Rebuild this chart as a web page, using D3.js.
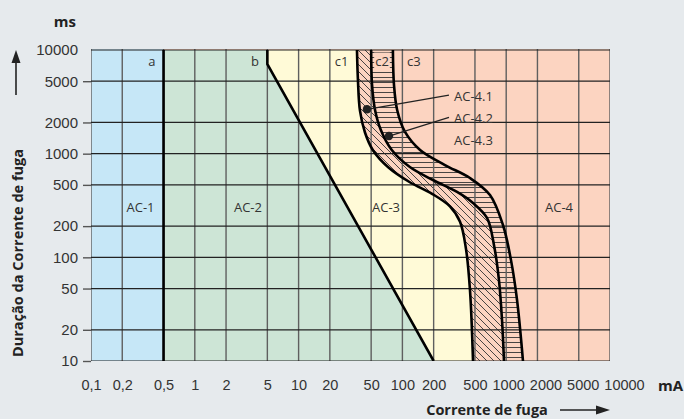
<!DOCTYPE html>
<html>
<head>
<meta charset="utf-8">
<script src="https://cdn.jsdelivr.net/npm/d3@7"></script>
<style>
  body { margin: 0; background: #e6eaed; }
  svg { display: block; font-family: "Open Sans", sans-serif; }
  .tick text { fill: #333; }
</style>
</head>
<body>
<svg id="chart" width="684" height="419"></svg>
<script>
// tick values (mA / ms)
let xTicks = [0.1, 0.2, 0.5, 1, 2, 5, 10, 20, 50, 100, 200, 500, 1000, 2000, 5000, 10000];
let yTicks = [10, 20, 50, 100, 200, 500, 1000, 2000, 5000, 10000];

// zone boundaries [current mA, duration ms]
let curveA = [[0.5, 10], [0.5, 10000]];
let curveB = [[5, 10000], [5, 7300], [200, 10]];
let curveC1 = [[36.5, 10000], [37.3, 5100], [39, 2600], [43.6, 1600], [52, 1080], [73, 740], [118, 530], [193, 410], [287, 310], [359, 220], [410, 120], [448, 48], [479, 10]];
let curveC2 = [[50, 10000], [51, 4600], [54.5, 2640], [62, 1690], [79, 1085], [118, 743], [197, 557], [336, 427], [479, 334], [653, 240], [763, 131], [852, 60], [911, 25], [952, 10]];
let curveC3 = [[81, 10000], [83, 4600], [89, 2640], [106, 1620], [148, 1085], [257, 777], [448, 582], [698, 399], [931, 205], [1112, 94], [1271, 39], [1451, 10]];

// labels
let curveLabels = [{ t: "a", x: 0.385, y: 7830 }, { t: "b", x: 3.8, y: 7830 }, { t: "c1", x: 26, y: 7830 }, { t: "c2", x: 63.6, y: 7830 }, { t: "c3", x: 129, y: 7830 }];
let zoneLabels = [{ t: "AC-1", x: 0.3 }, { t: "AC-2", x: 3.25 }, { t: "AC-3", x: 69.5 }, { t: "AC-4", x: 3226 }];
let zoneLabelY = 300;
let subLabels = [{ t: "AC-4.1", x: 314, y: 3598, dot: [45.6, 2679] }, { t: "AC-4.2", x: 314, y: 2193, dot: [74.3, 1480] }, { t: "AC-4.3", x: 314, y: 1355 }];

let colors = { blue: "#c6e7f7", green: "#cde5d6", yellow: "#fffad7", salmon: "#fcd4c1" };

let svg = d3.select("#chart");
let x = d3.scaleLog().domain([0.1, 10000]).range([91, 610]);
let y = d3.scaleLog().domain([10, 10000]).range([361, 50]);
let xL = x.range()[0], xR = x.range()[1], yB = y.range()[0], yT = y.range()[1];

// patterns
let defs = svg.append("defs");
defs.append("pattern").attr("id", "diag").attr("patternUnits", "userSpaceOnUse")
    .attr("width", 7).attr("height", 7)
    .append("path").attr("d", "M0,0L7,7M-1,6L1,8M6,-1L8,1")
    .attr("stroke", "#333").attr("stroke-width", 0.9);
defs.append("pattern").attr("id", "horiz").attr("patternUnits", "userSpaceOnUse")
    .attr("width", 6).attr("height", 5)
    .append("path").attr("d", "M0,2.5H6")
    .attr("stroke", "#333").attr("stroke-width", 0.9);
defs.append("clipPath").attr("id", "plotClip")
    .append("rect").attr("x", xL).attr("y", yT - 1).attr("width", xR - xL).attr("height", yB - yT + 1);

let smooth = d3.curveCatmullRom.alpha(0.5);
let line = d3.line().x(d => x(d[0])).y(d => y(d[1]));
let leftOf = d3.area().y(d => y(d[1])).x0(xL).x1(d => x(d[0]));
let rightOf = d3.area().y(d => y(d[1])).x0(d => x(d[0])).x1(xR);

let plot = svg.append("g").attr("clip-path", "url(#plotClip)");

// zone fills
plot.append("rect").attr("x", xL).attr("y", yT - 1).attr("width", xR - xL).attr("height", yB - yT + 1).attr("fill", colors.salmon);
plot.append("path").datum(curveC1).attr("d", rightOf.curve(smooth)).attr("fill", "url(#diag)");
plot.append("path").datum(curveC2).attr("d", rightOf.curve(smooth)).attr("fill", colors.salmon);
plot.append("path").datum(curveC2).attr("d", rightOf.curve(smooth)).attr("fill", "url(#horiz)");
plot.append("path").datum(curveC3).attr("d", rightOf.curve(smooth)).attr("fill", colors.salmon);
plot.append("path").datum(curveC1).attr("d", leftOf.curve(smooth)).attr("fill", colors.yellow);
plot.append("path").datum(curveB).attr("d", leftOf.curve(d3.curveLinear)).attr("fill", colors.green);
plot.append("rect").attr("x", xL).attr("y", yT - 1).attr("width", x(0.5) - xL).attr("height", yB - yT + 1).attr("fill", colors.blue);
let labelBg = plot.append("g");

// grid
plot.selectAll(".vgrid").data(xTicks).join("line").attr("class", "vgrid")
    .attr("x1", d => x(d)).attr("x2", d => x(d)).attr("y1", yT - 1).attr("y2", yB)
    .attr("stroke", "#5f5f5f").attr("stroke-width", 1.4);
plot.selectAll(".hgrid").data(yTicks).join("line").attr("class", "hgrid")
    .attr("x1", xL).attr("x2", xR).attr("y1", d => y(d)).attr("y2", d => y(d))
    .attr("stroke", "#222").attr("stroke-width", 1.2);

// boundary curves
plot.append("path").datum(curveA).attr("d", line.curve(d3.curveLinear)).attr("fill", "none").attr("stroke", "#000").attr("stroke-width", 2.6);
plot.append("path").datum(curveB).attr("d", line.curve(d3.curveLinear)).attr("fill", "none").attr("stroke", "#000").attr("stroke-width", 2.6);
[curveC1, curveC2, curveC3].forEach(c => {
    plot.append("path").datum(c).attr("d", line.curve(smooth)).attr("fill", "none").attr("stroke", "#000").attr("stroke-width", 2.6);
});

// curve labels
let cl = svg.append("g").attr("font-size", 13).attr("fill", "#333").attr("text-anchor", "middle");
cl.selectAll("text").data(curveLabels).join("text")
    .attr("x", d => x(d.x)).attr("y", d => y(d.y)).attr("dy", "0.35em").text(d => d.t)
    .each(function (d) {
        if (d.t == "c2") {
            let b = this.getBBox();
            labelBg.append("rect").attr("x", b.x - 1).attr("y", b.y + 1).attr("width", b.width + 2).attr("height", b.height - 2).attr("fill", colors.salmon);
        }
    });

// zone labels
svg.append("g").attr("font-size", 13).attr("fill", "#333").attr("text-anchor", "middle")
    .selectAll("text").data(zoneLabels).join("text")
    .attr("x", d => x(d.x)).attr("y", y(zoneLabelY)).attr("dy", "0.35em").text(d => d.t);

// AC-4.x labels with leaders
let sl = svg.append("g");
sl.selectAll("line").data(subLabels.filter(d => d.dot)).join("line")
    .attr("x1", d => x(d.dot[0])).attr("y1", d => y(d.dot[1]))
    .attr("x2", d => x(d.x) - 5).attr("y2", d => y(d.y) - 1)
    .attr("stroke", "#222").attr("stroke-width", 1.3);
sl.selectAll("circle").data(subLabels.filter(d => d.dot)).join("circle")
    .attr("cx", d => x(d.dot[0])).attr("cy", d => y(d.dot[1])).attr("r", 4.2).attr("fill", "#222");
sl.selectAll("text").data(subLabels).join("text")
    .attr("x", d => x(d.x)).attr("y", d => y(d.y)).attr("dy", "0.35em")
    .attr("font-size", 13).attr("fill", "#333").text(d => d.t);

// axes
let yAxis = svg.append("g").attr("transform", `translate(${xL},0)`)
    .call(d3.axisLeft(y).tickValues(yTicks).tickFormat(d3.format("d")).tickSize(8).tickPadding(5));
yAxis.select(".domain").remove();
yAxis.selectAll(".tick line").attr("stroke", "#555").attr("stroke-width", 1.4)
    .filter(d => d == 10000).remove();
yAxis.selectAll("text").attr("font-size", 15).attr("font-family", null);

let xAxis = svg.append("g").attr("transform", `translate(0,${yB})`)
    .call(d3.axisBottom(x).tickValues(xTicks).tickFormat(d => String(d).replace(".", ",")).tickSize(0).tickPadding(19));
xAxis.select(".domain").remove();
xAxis.selectAll("text").attr("font-size", 14.5).attr("font-family", null);

// push crowded x labels apart
let prevRight = -Infinity;
xAxis.selectAll(".tick").each(function () {
    let t = d3.select(this).select("text");
    let b = this.getBBox();
    let tr = this.transform.baseVal.consolidate().matrix.e;
    let left = tr + b.x;
    if (left < prevRight + 5) {
        let shift = prevRight + 5 - left;
        t.attr("dx", shift);
        left += shift;
    }
    prevRight = left + b.width;
});

// titles
svg.append("text").attr("x", 76).attr("y", 27).attr("text-anchor", "end")
    .attr("font-size", 15).attr("font-weight", "bold").attr("fill", "#222").text("ms");
svg.append("text").attr("x", 683).attr("y", 391).attr("text-anchor", "end")
    .attr("font-size", 15).attr("font-weight", "bold").attr("fill", "#222").text("mA");
svg.append("text").attr("transform", "translate(23,253) rotate(-90)").attr("text-anchor", "middle")
    .attr("font-size", 14.5).attr("font-weight", "bold").attr("fill", "#222").text("Duração da Corrente de fuga");
svg.append("text").attr("x", 487).attr("y", 415).attr("text-anchor", "middle")
    .attr("font-size", 14.5).attr("font-weight", "bold").attr("fill", "#222").text("Corrente de fuga");

// arrows
svg.append("line").attr("x1", 16).attr("x2", 16).attr("y1", 95).attr("y2", 60).attr("stroke", "#222").attr("stroke-width", 1.6);
svg.append("path").attr("d", "M16,50L11.5,63L20.5,63Z").attr("fill", "#222");
svg.append("line").attr("x1", 560).attr("x2", 598).attr("y1", 410).attr("y2", 410).attr("stroke", "#222").attr("stroke-width", 1.6);
svg.append("path").attr("d", "M610,410L596,405.5L596,414.5Z").attr("fill", "#222");
</script>
</body>
</html>
